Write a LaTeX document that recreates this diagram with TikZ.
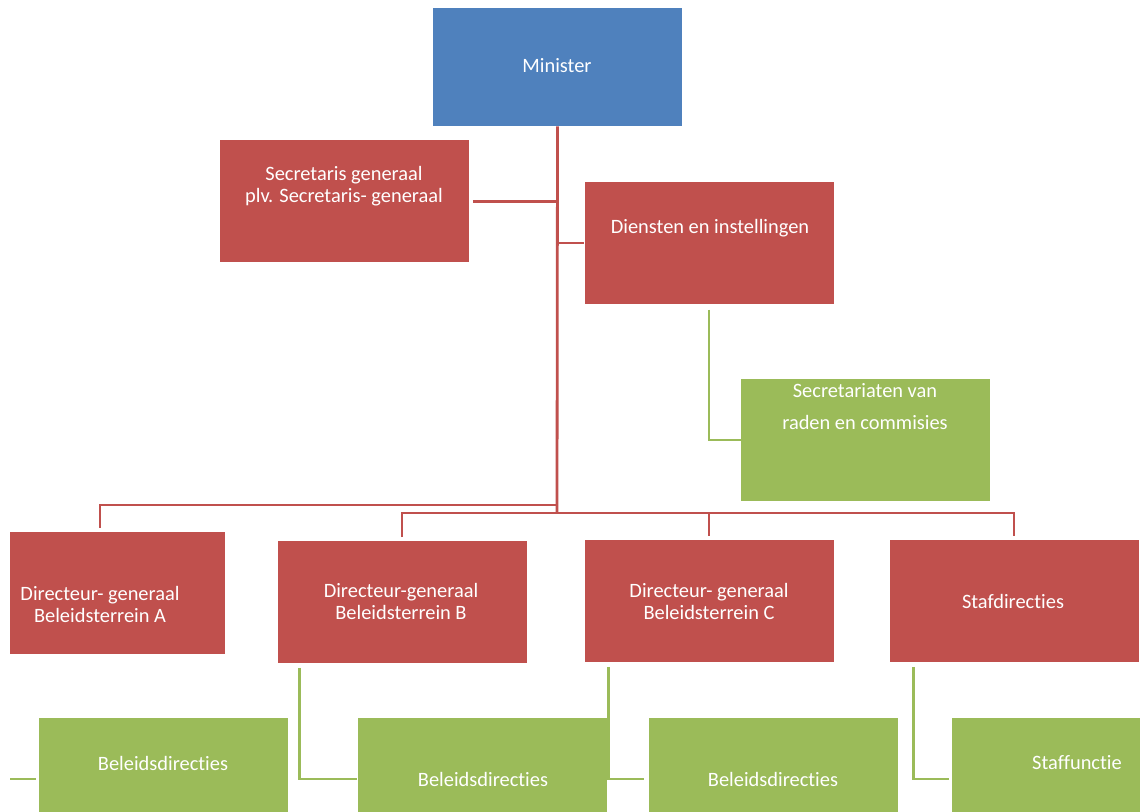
\documentclass[tikz,border=0pt]{standalone}
\usepackage{fontspec}
\setmainfont{Carlito}[Ligatures=NoCommon]
\usetikzlibrary{positioning}
\definecolor{orgBlue}{HTML}{4F81BD}
\definecolor{orgRed}{HTML}{C0504D}
\definecolor{orgGreen}{HTML}{9BBB59}
\tikzset{
  org/box/.style={draw=none, inner sep=0pt, minimum width=186.75pt,
    minimum height=91.5pt},
  org/top/.style={org/box, fill=orgBlue, minimum height=88.5pt},
  org/unit/.style={org/box, fill=orgRed},
  org/sub/.style={org/box, fill=orgGreen},
  org/label/.style={text=white, align=center,
    font=\fontsize{15.3}{16.5}\selectfont},
  org/link/.style={draw=orgRed, line width=2.1pt},
  org/sublink/.style={draw=orgGreen, line width=2.1pt},
}
\begin{document}
\begin{tikzpicture}[x=0.75pt, y=-0.75pt]
\useasboundingbox (0,0) rectangle (1140,812);
\begin{scope}
\clip (10,0) rectangle (1140,812);

% boxes, in screen pixels
\node[org/top] (min) at (557.5,67) {};
\node[org/unit] (sg) at (344,201.5) {};
\node[org/unit] (dien) at (709,243) {};
\node[org/sub] (secr) at (865.5,440) {};
\node[org/unit] (dgA) at (100,593.5) {};
\node[org/unit] (dgB) at (402,602.5) {};
\node[org/unit] (dgC) at (709,601.5) {};
\node[org/unit] (staf) at (1014,601.5) {};
\node[org/sub] (belA) at (163.5,779) {};
\node[org/sub] (belB) at (482,779) {};
\node[org/sub] (belC) at (773,779) {};
\node[org/sub] (staff) at (1076.5,779) {};

% texts
\node[org/label] (tMin) at (557,66) {Minister};
\node[org/label] (tSg) at (344,186) {Secretaris generaal\\plv. Secretaris- generaal};
\node[org/label] (tDien) at (710,228) {Diensten en instellingen};
\node[org/label, font=\fontsize{15.3}{24}\selectfont] (tSecr) at (865,407)
  {Secretariaten van\\raden en commisies};
\node[org/label] (tDgA) at (100,604) {Directeur- generaal\\Beleidsterrein A};
\node[org/label] (tDgB) at (401,601) {Directeur-generaal\\Beleidsterrein B};
\node[org/label] (tDgC) at (709,601) {Directeur- generaal\\Beleidsterrein C};
\node[org/label] (tStaf) at (1013,601) {Stafdirecties};
\node[org/label] (tBelA) at (163,763) {Beleidsdirecties};
\node[org/label] (tBelB) at (483,779) {Beleidsdirecties};
\node[org/label] (tBelC) at (773,779) {Beleidsdirecties};
\node[org/label] (tStaff) at (1077,763) {Staffunctie};

% red lines
\coordinate (busL) at (557,505);
\coordinate (busR) at (557,513);
\draw[org/link] (min.south) -- (busR);
\draw[org/link, shorten <=3pt] (sg.east) -- (sg.east -| min.south);
\draw[org/link] (dien.west -| min.south) -- (dien.west);
\draw[org/link, shorten >=3pt] (busL) -| (dgA.north);
\draw[org/link, shorten <=3pt, shorten >=3pt] (dgB.north) |- (busR) -| (staf.north);
\draw[org/link, shorten >=3pt] (busR -| dgC.north) -- (dgC.north);

% green lines
\draw[org/sublink, shorten <=4pt] (dien.south) |- (secr.west);
\draw[org/sublink, shorten <=3pt, shorten >=2pt] ([xshift=16.5pt]dgA.south west) |- (belA.west);
\draw[org/sublink, shorten <=3pt] ([xshift=16.5pt]dgB.south west) |- (belB.west);
\draw[org/sublink, shorten <=3pt, shorten >=3pt] ([xshift=18pt]dgC.south west) |- (belC.west);
\draw[org/sublink, shorten <=3pt, shorten >=2pt] ([xshift=18pt]staf.south west) |- (staff.west);
\end{scope}
\end{tikzpicture}
\end{document}
